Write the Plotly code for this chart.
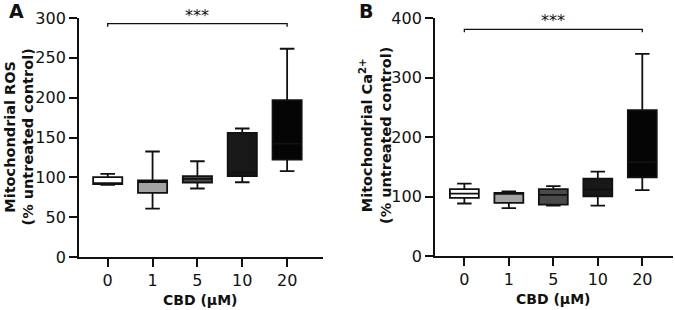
import plotly.graph_objects as go

categories = ["0", "1", "5", "10", "20"]
fills = ["#ffffff", "#a3a3a3", "#4a4a4a", "#181818", "#050505"]

# Panel A: Mitochondrial ROS
ros_low = [90.5, 60.7, 86, 93.8, 107.7]
ros_q1 = [91.5, 80.4, 93.5, 101.4, 122.3]
ros_med = [92.5, 93.9, 98, 106, 142.4]
ros_q3 = [100.3, 96.2, 101.5, 155.8, 196.9]
ros_high = [104.3, 132.4, 120.2, 161.3, 261.4]

# Panel B: Mitochondrial Ca2+
ca_low = [88.2, 80.5, 84.5, 84.7, 110.6]
ca_q1 = [97.8, 89.2, 86.2, 100.4, 132.2]
ca_med = [105, 105, 102.7, 111.6, 158]
ca_q3 = [112.5, 106, 112.5, 130, 245.2]
ca_high = [121.8, 108.6, 117.5, 141.9, 339.8]

# significance bracket heights and labels
sig_text = "***"
sig_A = 293
sig_B = 381

FONT = "DejaVu Sans"
fig = go.Figure()

for i, c in enumerate(categories):
    fig.add_trace(go.Box(
        x=[c], q1=[ros_q1[i]], median=[ros_med[i]], q3=[ros_q3[i]],
        lowerfence=[ros_low[i]], upperfence=[ros_high[i]],
        fillcolor=fills[i], line=dict(color="#111111", width=1.8),
        width=0.65, whiskerwidth=0.5, boxpoints=False, showlegend=False,
        xaxis="x", yaxis="y", hoverinfo="skip"))
    fig.add_trace(go.Box(
        x=[c], q1=[ca_q1[i]], median=[ca_med[i]], q3=[ca_q3[i]],
        lowerfence=[ca_low[i]], upperfence=[ca_high[i]],
        fillcolor=fills[i], line=dict(color="#111111", width=1.8),
        width=0.65, whiskerwidth=0.5, boxpoints=False, showlegend=False,
        xaxis="x2", yaxis="y2", hoverinfo="skip"))

axis_common = dict(showgrid=False, zeroline=False, showline=True,
                   linecolor="#111111", linewidth=1.8, ticks="outside",
                   ticklen=8, tickwidth=1.8, tickcolor="#111111",
                   automargin=False,
                   tickfont=dict(family=FONT, size=16, color="#111111"))

fig.update_layout(
    width=675, height=310,
    margin=dict(l=0, r=0, t=0, b=0, autoexpand=False),
    plot_bgcolor="white", paper_bgcolor="white",
    xaxis=dict(domain=[79/675, 323/675], type="category",
               categoryorder="array", categoryarray=categories,
               range=[-0.64, 4.8], anchor="y", **axis_common),
    yaxis=dict(domain=[1-257/310, 1-18/310], range=[0, 300],
               tickvals=[0, 50, 100, 150, 200, 250, 300], anchor="x",
               **axis_common),
    xaxis2=dict(domain=[435/675, 673/675], type="category",
                categoryorder="array", categoryarray=categories,
                range=[-0.66, 4.69], anchor="y2", **axis_common),
    yaxis2=dict(domain=[1-256/310, 1-18/310], range=[0, 400],
                tickvals=[0, 100, 200, 300, 400], anchor="x2",
                **axis_common),
)

# significance brackets (category index positions: first=0, last=4)
first, last = 0, len(categories) - 1
for xr, yr, ytop, drop in [("x", "y", sig_A, 4), ("x2", "y2", sig_B, 5)]:
    fig.add_shape(type="path", xref=xr, yref=yr,
                  path=f"M {first},{ytop-drop} L {first},{ytop} L {last},{ytop} L {last},{ytop-drop}",
                  line=dict(color="#111111", width=1.3))
    fig.add_annotation(xref=xr, yref=yr, x=(first+last)/2, y=ytop, text=sig_text,
                       showarrow=False, yanchor="bottom", yshift=-3,
                       font=dict(family=FONT, size=16, color="#111111"))

annos = [
    dict(x=16.7/675, y=1-11/310, text="<b>A</b>", size=19),
    dict(x=365.5/675, y=1-11/310, text="<b>B</b>", size=19),
    dict(x=200/675, y=1-300/310, text="<b>CBD (μM)</b>", size=14),
    dict(x=553/675, y=1-299/310, text="<b>CBD (μM)</b>", size=14),
]
for a in annos:
    fig.add_annotation(xref="paper", yref="paper", x=a["x"], y=a["y"],
                       text=a["text"], showarrow=False, xanchor="center",
                       yanchor="middle",
                       font=dict(family=FONT, size=a["size"], color="#111111"))

for xc, yc, txt in [(18.5/675, 1-137/310, "<b>Mitochondrial ROS<br>(% untreated control)</b>"),
                    (375/675, 1-136/310, "<b>Mitochondrial Ca<sup>2+</sup><br>(% untreated control)</b>")]:
    fig.add_annotation(xref="paper", yref="paper", x=xc, y=yc, text=txt,
                       showarrow=False, textangle=-90, xanchor="center",
                       yanchor="middle",
                       font=dict(family=FONT, size=14.5, color="#111111"))

fig.write_html("out.html", config={"displayModeBar": False},
               post_script="document.body.style.margin='0';document.body.style.padding='0';document.body.style.overflow='hidden';")
